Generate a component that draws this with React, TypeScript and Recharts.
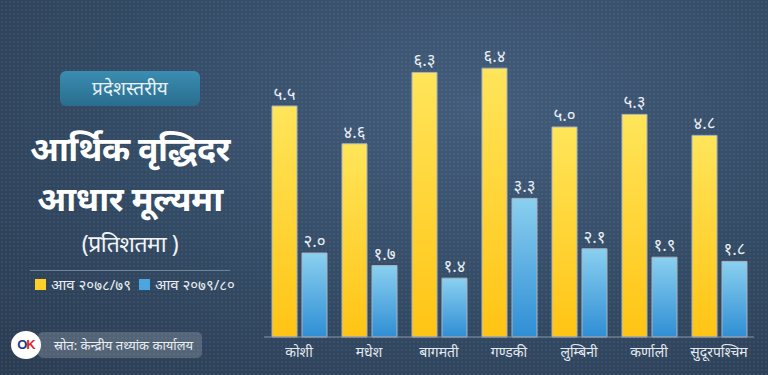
import { Bar, BarChart, LabelList, XAxis, YAxis } from "recharts";

const provinces = ["कोशी", "मधेश", "बागमती", "गण्डकी", "लुम्बिनी", "कर्णाली", "सुदूरपश्चिम"];
const growth7879 = [5.5, 4.6, 6.3, 6.4, 5.0, 5.3, 4.8];
const growth7980 = [2.0, 1.7, 1.4, 3.3, 2.1, 1.9, 1.8];
const seriesNames = ["आव २०७८/७९", "आव २०७९/८०"];

const data = provinces.map((name, i) => ({
  name,
  a: growth7879[i],
  b: growth7980[i],
}));

const NEP_DIGITS = "०१२३४५६७८९";
const toNepali = (v: number) =>
  v.toFixed(1).replace(/[0-9]/g, (d) => NEP_DIGITS[Number(d)]);

const FONT = "'Noto Sans', 'Noto Sans Devanagari', sans-serif";

export default function App() {
  return (
    <div
      style={{
        position: "fixed",
        top: 0,
        left: 0,
        width: 768,
        height: 375,
        overflow: "hidden",
        fontFamily: FONT,
        backgroundColor: "#324862",
        backgroundImage:
          "radial-gradient(rgba(255,255,255,0.05) 1px, transparent 1px), radial-gradient(ellipse at 62% 28%, #425c7b 0%, #334a64 55%, #2a3c52 100%)",
        backgroundSize: "4px 4px, 100% 100%",
      }}
    >
      {/* left panel */}
      <div
        style={{
          position: "absolute",
          left: 60,
          top: 71,
          width: 140,
          height: 35,
          borderRadius: 6,
          background: "linear-gradient(180deg, #3a8db2 0%, #2a6d8e 100%)",
          color: "#e8f1f6",
          fontSize: 19,
          lineHeight: "35px",
          textAlign: "center",
        }}
      >
        प्रदेशस्तरीय
      </div>
      <div
        style={{
          position: "absolute",
          left: 0,
          top: 123,
          width: 260,
          textAlign: "center",
          color: "#ffffff",
          fontWeight: 700,
          fontSize: 34,
          lineHeight: "50px",
          letterSpacing: -0.5,
        }}
      >
        <div>आर्थिक वृद्धिदर</div>
        <div>आधार मूल्यमा</div>
        <div style={{ fontSize: 23, fontWeight: 400, lineHeight: "40px", color: "#f0f3f6" }}>
          (प्रतिशतमा )
        </div>
      </div>
      <div
        style={{
          position: "absolute",
          left: 30,
          top: 270,
          width: 200,
          height: 1,
          background: "#6f8399",
        }}
      />
      <div
        style={{
          position: "absolute",
          left: 35,
          top: 274,
          display: "flex",
          alignItems: "center",
          color: "#e8edf2",
          fontSize: 15,
        }}
      >
        <span style={{ width: 11, height: 11, background: "#ffcf2a", display: "inline-block", marginRight: 5 }} />
        <span style={{ marginRight: 8 }}>{seriesNames[0]}</span>
        <span style={{ width: 11, height: 11, background: "#4aa6e0", display: "inline-block", marginRight: 5 }} />
        <span>{seriesNames[1]}</span>
      </div>

      {/* source */}
      <div
        style={{
          position: "absolute",
          left: 38,
          top: 332,
          width: 164,
          height: 26,
          borderRadius: 5,
          background: "rgba(255,255,255,0.18)",
          color: "#e8edf2",
          fontSize: 13,
          lineHeight: "26px",
          paddingLeft: 16,
          boxSizing: "border-box",
        }}
      >
        स्रोत: केन्द्रीय तथ्यांक कार्यालय
      </div>
      <div
        style={{
          position: "absolute",
          left: 11,
          top: 331,
          width: 30,
          height: 28,
          borderRadius: "50%",
          background: "#ffffff",
          fontSize: 13,
          fontWeight: 800,
          fontFamily: "Arial, 'Liberation Sans', sans-serif",
          lineHeight: "28px",
          textAlign: "center",
          letterSpacing: -1,
        }}
      >
        <span style={{ color: "#1d3b8a" }}>O</span>
        <span style={{ color: "#e0262b" }}>K</span>
      </div>

      <div style={{ position: "absolute", left: 0, top: 0 }}>
        <BarChart
          width={768}
          height={375}
          data={data}
          margin={{ top: 43, right: 14, bottom: 8, left: 264 }}
          barCategoryGap={8}
          barGap={5}
        >
          <defs>
            <linearGradient id="gYellow" x1="0" y1="0" x2="0" y2="1">
              <stop offset="0%" stopColor="#ffe55a" />
              <stop offset="100%" stopColor="#ffc414" />
            </linearGradient>
            <linearGradient id="gBlue" x1="0" y1="0" x2="0" y2="1">
              <stop offset="0%" stopColor="#8ad0f0" />
              <stop offset="100%" stopColor="#2f8ed4" />
            </linearGradient>
          </defs>
          <XAxis
            dataKey="name"
            height={30}
            tickLine={false}
            stroke="#8796a8"
            tick={{ fill: "#e3e9ef", fontSize: 14, fontFamily: FONT }}
            tickMargin={4}
            interval={0}
          />
          <YAxis hide domain={[0, 7]} />
          <Bar dataKey="a" name={seriesNames[0]} fill="url(#gYellow)" stroke="#a9b4c0" strokeWidth={1} isAnimationActive={false}>
            <LabelList dataKey="a" position="top" offset={6} formatter={(v: any) => toNepali(Number(v))} fill="#e8eef4" fontSize={17} fontFamily={FONT} />
          </Bar>
          <Bar dataKey="b" name={seriesNames[1]} fill="url(#gBlue)" stroke="#a9b4c0" strokeWidth={1} isAnimationActive={false}>
            <LabelList dataKey="b" position="top" offset={6} formatter={(v: any) => toNepali(Number(v))} fill="#e8eef4" fontSize={17} fontFamily={FONT} />
          </Bar>
        </BarChart>
      </div>
    </div>
  );
}
